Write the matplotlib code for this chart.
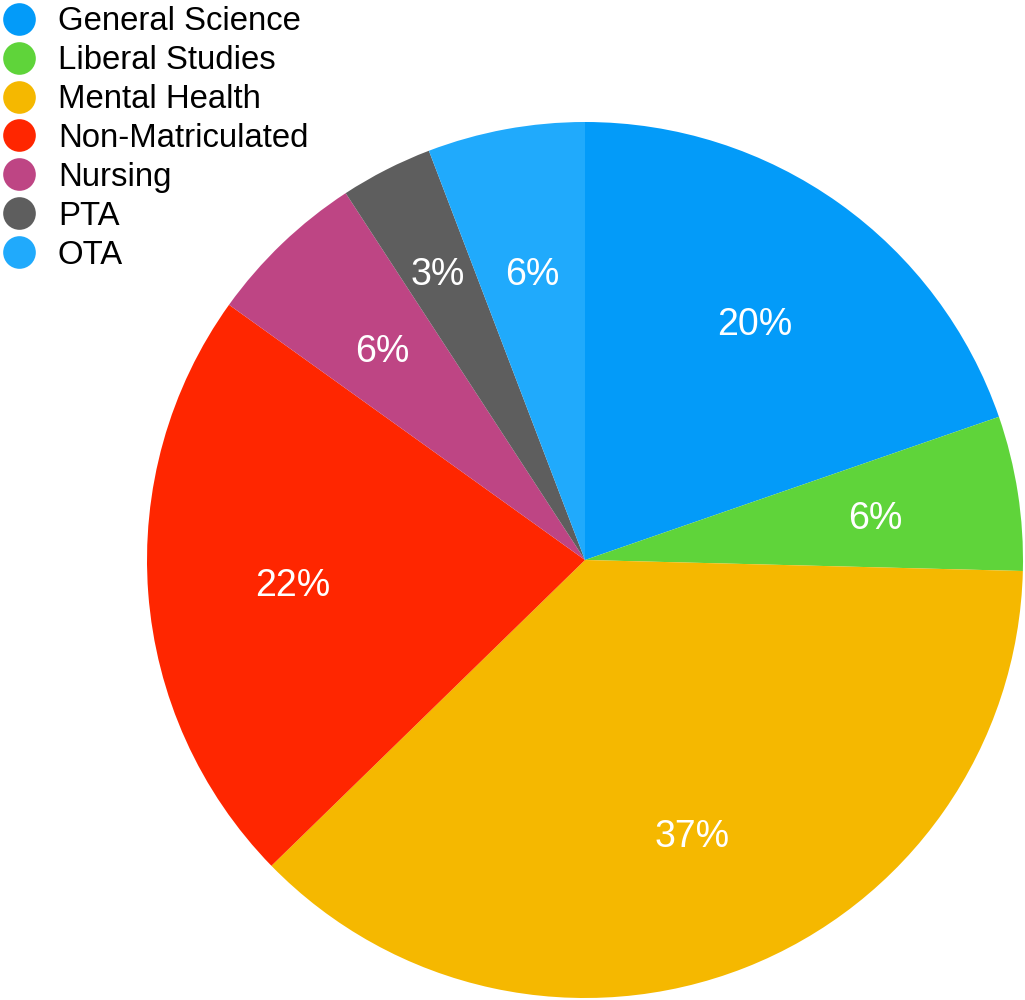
import matplotlib
matplotlib.use("Agg")
import matplotlib.pyplot as plt
from matplotlib.lines import Line2D

categories = ["General Science", "Liberal Studies", "Mental Health", "Non-Matriculated",
              "Nursing", "PTA", "OTA"]
values = [19.7, 5.7, 37.3, 22.2, 5.9, 3.4, 5.8]
colors = ["#039BF9", "#5FD43A", "#F5B800", "#FF2600", "#BE4584", "#5E5E5E", "#20AAFC"]

plt.rcParams['font.family'] = ['Liberation Sans', 'DejaVu Sans']

fig = plt.figure(figsize=(10.25, 10), dpi=100)
ax = fig.add_axes([147/1025, 2/1000, 876/1025, 876/1000])
wedges, texts, autotexts = ax.pie(values, colors=colors, startangle=90, counterclock=False,
                                  autopct='%.0f%%', pctdistance=0.67,
                                  wedgeprops=dict(linewidth=0),
                                  textprops=dict(color='white', fontsize=27))
for t in autotexts:
    t.set_va('center_baseline')
# PTA label sits a bit farther out to avoid crowding
x, y = autotexts[5].get_position()
autotexts[5].set_position((x * 0.74 / 0.67, y * 0.74 / 0.67))

ax.set_xlim(-1, 1)
ax.set_ylim(-1, 1)
ax.set_aspect('equal')
ax.axis('off')

handles = [Line2D([0], [0], marker='o', linestyle='none', markersize=23.5,
                  markerfacecolor=c, markeredgewidth=0) for c in colors]
fig.legend(handles, categories, loc='upper left', bbox_to_anchor=(-0.002, 0.997),
           frameon=False, fontsize=23.7, labelspacing=0.24, handletextpad=0.62,
           handlelength=1.1, borderaxespad=0, borderpad=0.1)

fig.savefig("out.png", dpi=100)
